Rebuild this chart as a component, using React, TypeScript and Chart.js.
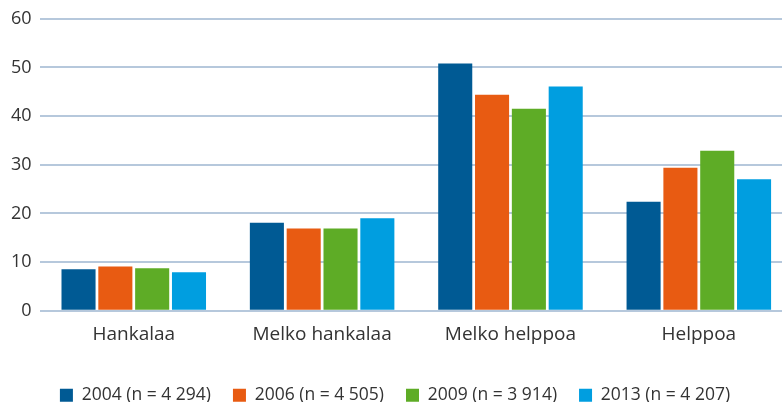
import React, { useEffect, useRef } from "react";
import { Chart, registerables } from "chart.js";

Chart.register(...registerables);

const categories = ["Hankalaa", "Melko hankalaa", "Melko helppoa", "Helppoa"];
const seriesLabels = [
  "2004 (n = 4 294)",
  "2006 (n = 4 505)",
  "2009 (n = 3 914)",
  "2013 (n = 4 207)",
];
const values2004 = [8.5, 18.1, 50.8, 22.4];
const values2006 = [9.1, 16.9, 44.4, 29.4];
const values2009 = [8.7, 16.9, 41.5, 32.9];
const values2013 = [7.9, 19.0, 46.1, 27.0];
const seriesColors = ["#005a94", "#e85b12", "#5eac26", "#009ee0"];
const yTicks = [0, 10, 20, 30, 40, 50, 60];

const legendShift = {
  id: "legendShift",
  afterLayout(chart: any) {
    if (chart.legend) {
      chart.legend.top += 7;
      chart.legend.bottom += 7;
      chart.legend.left -= 3;
      chart.legend.right -= 3;
    }
  },
};

export default function App() {
  const ref = useRef<HTMLCanvasElement | null>(null);

  useEffect(() => {
    if (!ref.current) return;
    const seriesValues = [values2004, values2006, values2009, values2013];
    const font = "'Open Sans', 'DejaVu Sans', sans-serif";
    const chart = new Chart(ref.current, {
      type: "bar",
      data: {
        labels: categories,
        datasets: seriesValues.map((v, i) => ({
          label: seriesLabels[i],
          data: v,
          backgroundColor: seriesColors[i],
          borderWidth: 0,
          categoryPercentage: 0.782,
          barPercentage: 0.925,
        })),
      },
      plugins: [legendShift],
      options: {
        responsive: false,
        animation: false,
        devicePixelRatio: 1,
        layout: { padding: { left: 3, right: 0, top: 3, bottom: 0 } },
        plugins: {
          tooltip: { enabled: false },
          legend: {
            position: "bottom",
            labels: {
              boxWidth: 13,
              boxHeight: 13,
              padding: 22,
              color: "#333333",
              font: { family: font, size: 17.5 },
            },
          },
        },
        scales: {
          x: {
            grid: { display: false, drawTicks: false },
            border: { display: false },
            ticks: {
              color: "#333333",
              font: { family: font, size: 19 },
              padding: 12,
            },
          },
          y: {
            min: 0,
            max: 60,
            afterBuildTicks: (axis: any) => {
              axis.ticks = yTicks.map((v) => ({ value: v }));
            },
            grid: { color: "#b6c8dc", lineWidth: 2, drawTicks: false },
            border: { display: false },
            ticks: {
              color: "#333333",
              font: { family: font, size: 18 },
              padding: 8,
            },
          },
        },
      },
    });
    return () => chart.destroy();
  }, []);

  return (
    <div
      style={{
        position: "fixed",
        left: 0,
        top: 0,
        width: 782,
        height: 402,
        overflow: "hidden",
        background: "#ffffff",
      }}
    >
      <canvas ref={ref} width={793} height={407} style={{ display: "block" }} />
    </div>
  );
}
